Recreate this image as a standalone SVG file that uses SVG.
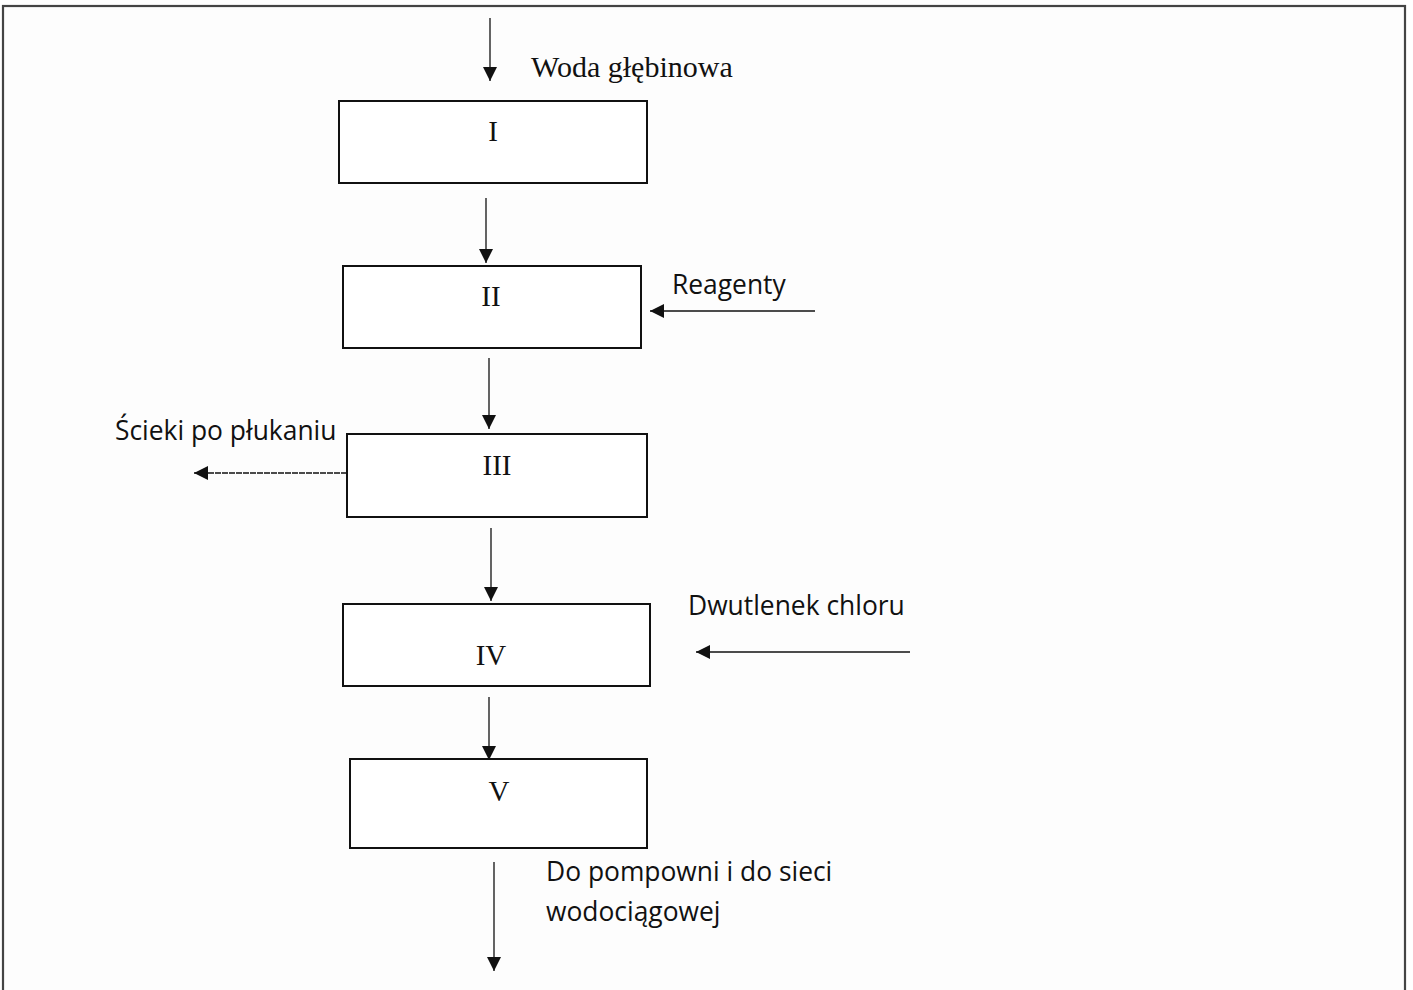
<svg xmlns="http://www.w3.org/2000/svg" width="1413" height="990" viewBox="0 0 1413 990">
<style>
.box{fill:#fff;stroke:#111;stroke-width:2}
.ln{stroke:#111;stroke-width:1.3;fill:none}
.rn{font-family:"Liberation Serif",serif;font-size:29px;fill:#111;text-anchor:middle}
.sr{font-family:"Liberation Serif",serif;font-size:30px;fill:#111}
.ss{font-family:"Open Sans",sans-serif;font-size:26.4px;fill:#111}
</style>
<defs>
<marker id="ah" viewBox="0 0 10 10" refX="10" refY="5" markerWidth="14" markerHeight="14" markerUnits="userSpaceOnUse" orient="auto">
<path d="M0,0 L10,5 L0,10 z" fill="#111"/>
</marker>
</defs>
<rect width="1413" height="990" fill="#fff"/>
<rect x="3" y="6" width="1402" height="1000" fill="#fdfdfd" stroke="#444" stroke-width="2.2"/>
<g id="connectors">
<line class="ln" x1="490" y1="18" x2="490" y2="81" marker-end="url(#ah)"/>
<line class="ln" x1="486" y1="198" x2="486" y2="263" marker-end="url(#ah)"/>
<line class="ln" x1="489" y1="358" x2="489" y2="429" marker-end="url(#ah)"/>
<line class="ln" x1="491" y1="528" x2="491" y2="601" marker-end="url(#ah)"/>
<line class="ln" x1="489" y1="697" x2="489" y2="760" marker-end="url(#ah)"/>
<line class="ln" x1="494" y1="862" x2="494" y2="971" marker-end="url(#ah)"/>
<line class="ln" x1="815" y1="311" x2="650" y2="311" marker-end="url(#ah)"/>
<line class="ln" x1="910" y1="652" x2="696" y2="652" marker-end="url(#ah)"/>
<line class="ln" x1="347" y1="473" x2="194" y2="473" stroke="#444" stroke-dasharray="6 1" marker-end="url(#ah)"/>
</g>
<g id="node-I"><rect class="box" x="339" y="101" width="308" height="82"/><text class="rn" x="493" y="141">I</text></g>
<g id="node-II"><rect class="box" x="343" y="266" width="298" height="82"/><text class="rn" x="491" y="306">II</text></g>
<g id="node-III"><rect class="box" x="347" y="434" width="300" height="83"/><text class="rn" x="497" y="475">III</text></g>
<g id="node-IV"><rect class="box" x="343" y="604" width="307" height="82"/><text class="rn" x="491" y="665">IV</text></g>
<g id="node-V"><rect class="box" x="350" y="759" width="297" height="89"/><text class="rn" x="499" y="801">V</text></g>
<g id="labels">
<text class="sr" x="531" y="77">Woda głębinowa</text>
<text class="ss" x="672" y="294">Reagenty</text>
<text class="ss" x="115" y="440">Ścieki po płukaniu</text>
<text class="ss" x="688" y="615">Dwutlenek chloru</text>
<text class="ss" x="546" y="881">Do pompowni i do sieci</text>
<text class="ss" x="546" y="921">wodociągowej</text>
</g>
</svg>
